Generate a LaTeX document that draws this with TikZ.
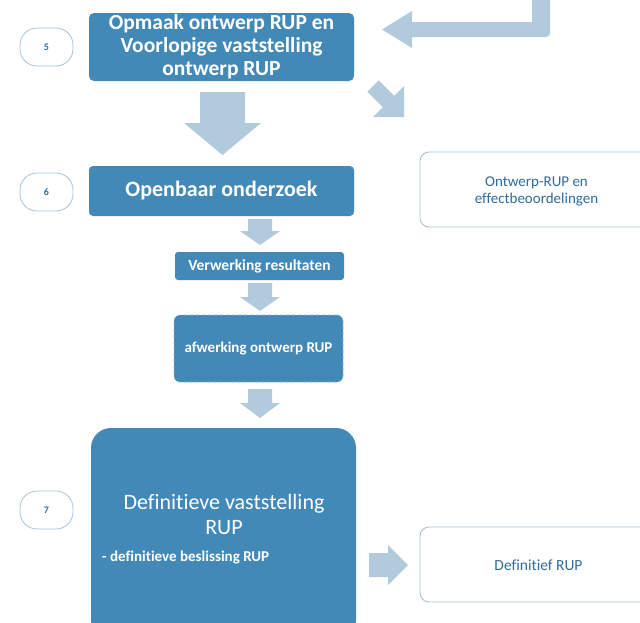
\documentclass[tikz,border=0pt]{standalone}
\usepackage{fontspec}
\setmainfont[Ligatures={NoCommon}]{Carlito}
\definecolor{boxblue}{RGB}{67,137,183}
\definecolor{arrowblue}{RGB}{178,203,220}
\definecolor{lineblue}{RGB}{164,196,220}
\definecolor{textblue}{RGB}{46,108,156}
\definecolor{dashblue}{RGB}{140,180,210}
\begin{document}
\begin{tikzpicture}[x=1pt,y=-1pt,
  stepbox/.style={fill=boxblue, rounded corners=5pt, text=white, font=\bfseries, align=center, inner sep=0pt},
  numcircle/.style={draw=lineblue, line width=0.8pt, fill=white, rounded corners=17pt, minimum width=53pt, minimum height=38pt, text=textblue, font=\bfseries\fontsize{10}{12}\selectfont, inner sep=0pt},
  outbox/.style={draw=lineblue, line width=0.9pt, rounded corners=9pt, fill=white, text=textblue, align=center, inner sep=0pt, font=\fontsize{15}{17}\selectfont},
  blockarrow/.style={fill=arrowblue, draw=none}
]
\useasboundingbox (0,0) rectangle (640,622);
\clip (0,0) rectangle (640,622);

% step 5
\node[numcircle] (c5) at (46.5,47) {5};
\node[stepbox, minimum width=265pt, minimum height=68pt, font=\bfseries\fontsize{21.5}{23}\selectfont] (box5) at (221.5,47)
  {Opmaak ontwerp RUP en\\Voorlopige vaststelling\\ontwerp RUP};

% step 6
\node[numcircle] (c6) at (46.5,192) {6};
\node[stepbox, rounded corners=4pt, minimum width=265pt, minimum height=50pt, font=\bfseries\fontsize{22}{26}\selectfont] (box6) at (221.5,191)
  {Openbaar onderzoek};
\node[outbox, minimum width=240pt, minimum height=75pt] (out1) at (540,189.5) {};
\node[text=textblue, align=center, font=\fontsize{15}{17}\selectfont, inner sep=0pt] (out1text) at (536.5,191)
  {Ontwerp-RUP en\\effectbeoordelingen};

\node[stepbox, rounded corners=3pt, minimum width=169pt, minimum height=28pt, font=\bfseries\fontsize{15.5}{17}\selectfont] (verw) at (259.5,266)
  {Verwerking resultaten};
\node[stepbox, rounded corners=6pt, draw=dashblue, dashed, line width=0.6pt, minimum width=169pt, minimum height=67pt, font=\bfseries\fontsize{15}{17}\selectfont] (afw) at (258.5,348.5)
  {afwerking ontwerp RUP};

% step 7
\node[numcircle] (c7) at (46.5,510) {7};
\node[stepbox, rounded corners=20pt, minimum width=265pt, minimum height=212pt] (box7) at (223.5,534) {};
\node[text=white, align=center, font=\fontsize{22}{25}\selectfont, inner sep=0pt] (box7title) at (224,514)
  {Definitieve vaststelling\\RUP};
\node[text=white, anchor=west, font=\bfseries\fontsize{15}{17}\selectfont, inner sep=0pt] (box7sub) at (102,557)
  {- definitieve beslissing RUP};
\node[outbox, minimum width=240pt, minimum height=75pt] (out2) at (540,564.5) {};
\node[text=textblue, font=\fontsize{15.5}{17}\selectfont, inner sep=0pt] (out2text) at (538.5,565)
  {Definitief RUP};

% block arrows
\fill[blockarrow] (532,-2) -- (550,-2) [rounded corners=4pt] -- (550,37) [sharp corners] -- (412,37) -- (412,48) -- (382,29.5) -- (412,11) -- (412,22) -- (532,22) -- cycle;
\fill[blockarrow] (404,86) -- (404,117) -- (373,117) -- (382.8,107.2) -- (367.3,91.7) -- (378.7,80.3) -- (394.2,95.8) -- cycle;
\fill[blockarrow] (200,92) -- (245,92) -- (245,123) -- (261,123) -- (222.5,155) -- (184,123) -- (200,123) -- cycle;
\fill[blockarrow] (248,219) -- (272,219) -- (272,231) -- (280,231) -- (260,245) -- (240,231) -- (248,231) -- cycle;
\fill[blockarrow] (248,283) -- (272,283) -- (272,297) -- (280,297) -- (260,311) -- (240,297) -- (248,297) -- cycle;
\fill[blockarrow] (248,389) -- (272,389) -- (272,403) -- (280,403) -- (260,418) -- (240,403) -- (248,403) -- cycle;
\fill[blockarrow] (369,553) -- (388,553) -- (388,545) -- (408,565) -- (388,585) -- (388,577) -- (369,577) -- cycle;
\end{tikzpicture}
\end{document}
